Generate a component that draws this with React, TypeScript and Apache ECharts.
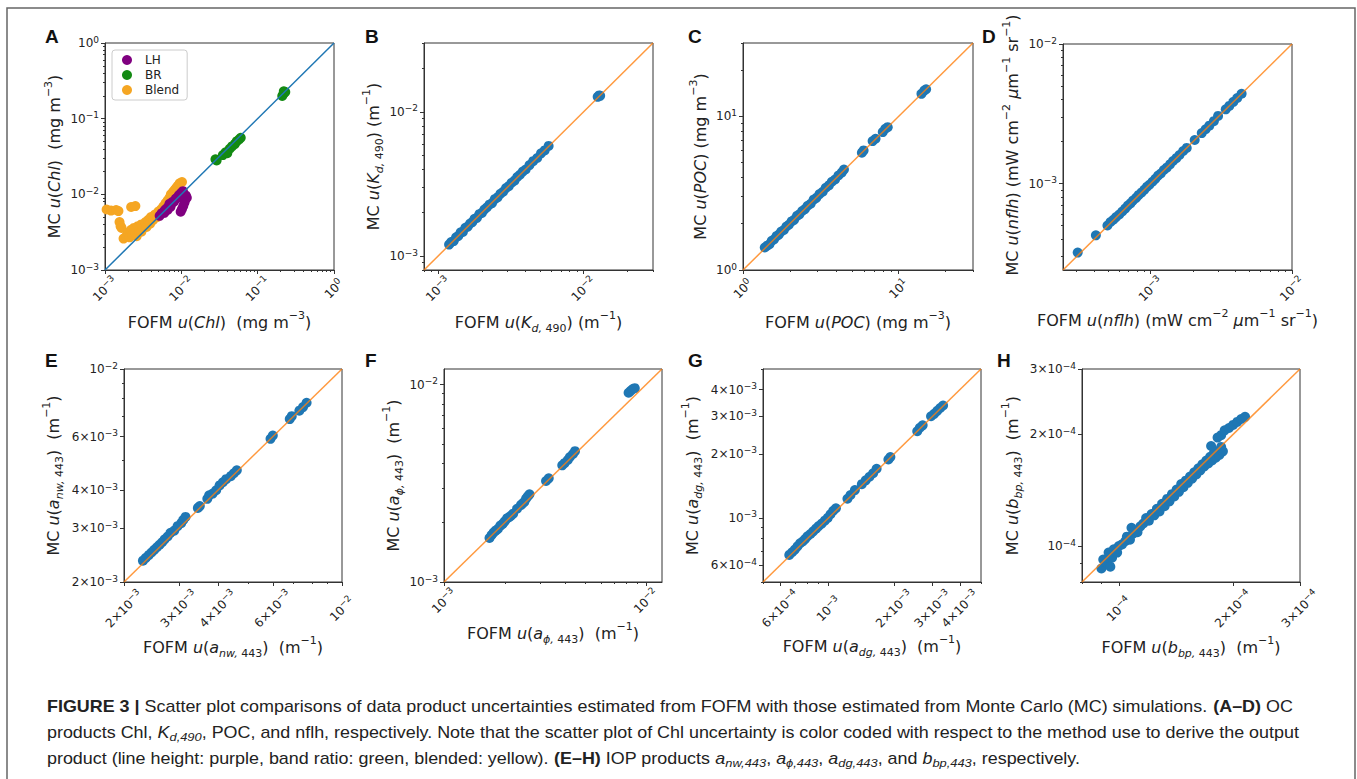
import React, { useEffect, useRef } from "react";
import * as echarts from "echarts";

type Pt = [number, number];

// ---------- data (FOFM uncertainty, MC uncertainty) ----------
const chlLH: Pt[] = [
  [5.2e-3, 5.2e-3], [5.5e-3, 5.6e-3], [5.8e-3, 5.8e-3], [6.0e-3, 5.7e-3], [6.1e-3, 6.2e-3],
  [6.4e-3, 6.5e-3], [6.6e-3, 6.2e-3], [6.8e-3, 6.9e-3], [7.0e-3, 7.5e-3], [7.2e-3, 6.8e-3],
  [7.3e-3, 7.3e-3], [7.6e-3, 7.9e-3], [8.0e-3, 8.0e-3], [8.4e-3, 8.7e-3], [8.8e-3, 9.0e-3],
  [9.2e-3, 9.6e-3], [9.6e-3, 1.0e-2], [1.0e-2, 1.05e-2], [1.05e-2, 1.1e-2], [1.08e-2, 1.0e-2],
  [1.1e-2, 9.2e-3], [1.12e-2, 8.5e-3], [1.1e-2, 7.8e-3], [1.06e-2, 7.0e-3], [1.02e-2, 6.4e-3],
  [9.8e-3, 5.9e-3], [1.15e-2, 9.6e-3], [1.18e-2, 9.0e-3],
];
const chlBR: Pt[] = [
  [2.8e-2, 2.9e-2], [2.9e-2, 2.8e-2], [3.5e-2, 3.3e-2], [3.8e-2, 3.6e-2], [4.0e-2, 3.5e-2],
  [4.3e-2, 4.0e-2], [4.6e-2, 4.3e-2], [5.0e-2, 4.6e-2], [5.3e-2, 5.0e-2], [5.7e-2, 5.3e-2],
  [6.0e-2, 5.6e-2], [2.1e-1, 2.0e-1], [2.2e-1, 2.15e-1], [2.3e-1, 2.25e-1], [2.2e-1, 2.3e-1],
];
const chlBlend: Pt[] = [
  [1.05e-3, 6.3e-3], [1.2e-3, 6.1e-3], [1.4e-3, 6.2e-3], [1.5e-3, 6.0e-3], [2.2e-3, 6.8e-3],
  [2.5e-3, 7.0e-3], [1.55e-3, 4.3e-3], [1.6e-3, 3.8e-3], [1.65e-3, 3.6e-3],
  [1.75e-3, 2.6e-3], [1.9e-3, 2.8e-3], [2.0e-3, 3.1e-3], [2.1e-3, 2.7e-3], [2.2e-3, 3.4e-3],
  [2.3e-3, 2.9e-3], [2.4e-3, 3.6e-3], [2.5e-3, 3.1e-3], [2.6e-3, 2.8e-3], [2.7e-3, 3.8e-3],
  [2.8e-3, 3.3e-3], [3.0e-3, 3.2e-3], [3.0e-3, 4.0e-3], [3.2e-3, 3.6e-3], [3.4e-3, 4.3e-3],
  [3.5e-3, 3.7e-3], [3.7e-3, 4.6e-3], [3.9e-3, 4.1e-3], [4.0e-3, 5.0e-3], [4.3e-3, 4.6e-3],
  [4.5e-3, 5.4e-3], [4.8e-3, 5.0e-3], [5.0e-3, 5.9e-3], [5.4e-3, 6.3e-3], [5.8e-3, 6.9e-3],
  [6.2e-3, 7.6e-3], [6.6e-3, 8.3e-3], [6.8e-3, 7.8e-3], [7.0e-3, 9.0e-3], [7.3e-3, 1.0e-2],
  [7.8e-3, 1.08e-2], [8.0e-3, 9.6e-3], [8.2e-3, 1.15e-2], [8.6e-3, 1.22e-2], [9.0e-3, 1.1e-2],
  [9.0e-3, 1.3e-2], [9.5e-3, 1.4e-2], [1.02e-2, 1.45e-2],
];
const kd490: Pt[] = [
  [1.19e-3, 1.2e-3], [1.23e-3, 1.25e-3], [1.28e-3, 1.27e-3], [1.33e-3, 1.35e-3], [1.38e-3, 1.38e-3],
  [1.43e-3, 1.46e-3], [1.48e-3, 1.47e-3], [1.54e-3, 1.57e-3], [1.6e-3, 1.6e-3], [1.66e-3, 1.68e-3],
  [1.72e-3, 1.72e-3], [1.78e-3, 1.81e-3], [1.85e-3, 1.84e-3], [1.92e-3, 1.95e-3], [2.0e-3, 1.99e-3],
  [2.08e-3, 2.1e-3], [2.16e-3, 2.17e-3], [2.25e-3, 2.27e-3], [2.35e-3, 2.33e-3], [2.45e-3, 2.48e-3],
  [2.56e-3, 2.55e-3], [2.68e-3, 2.7e-3], [2.8e-3, 2.79e-3], [2.93e-3, 2.96e-3], [3.06e-3, 3.05e-3],
  [3.2e-3, 3.22e-3], [3.35e-3, 3.33e-3], [3.5e-3, 3.53e-3], [3.65e-3, 3.66e-3], [3.82e-3, 3.85e-3],
  [4.0e-3, 3.98e-3], [4.25e-3, 4.27e-3], [4.5e-3, 4.55e-3], [4.8e-3, 4.78e-3], [5.1e-3, 5.15e-3],
  [5.4e-3, 5.4e-3], [5.75e-3, 5.8e-3], [1.25e-2, 1.27e-2], [1.28e-2, 1.3e-2], [1.3e-2, 1.29e-2],
];
const poc: Pt[] = [
  [1.38, 1.4], [1.43, 1.44], [1.48, 1.47], [1.53, 1.55], [1.58, 1.58], [1.64, 1.66], [1.7, 1.7],
  [1.76, 1.78], [1.83, 1.82], [1.9, 1.92], [1.97, 1.97], [2.05, 2.07], [2.13, 2.12], [2.22, 2.25],
  [2.3, 2.3], [2.4, 2.42], [2.5, 2.49], [2.6, 2.62], [2.72, 2.7], [2.84, 2.87], [2.96, 2.95],
  [3.1, 3.12], [3.25, 3.23], [3.4, 3.43], [3.56, 3.55], [3.72, 3.75], [3.9, 3.88], [4.1, 4.12],
  [4.3, 4.3], [4.45, 4.5], [5.8, 5.8], [5.95, 6.0], [6.8, 6.9], [7.1, 7.15], [7.9, 7.9],
  [8.2, 8.3], [8.5, 8.5], [14.0, 14.0], [14.6, 14.7], [15.0, 15.0],
];
const nflh: Pt[] = [
  [3.05e-4, 3.2e-4], [4.1e-4, 4.25e-4], [4.95e-4, 5.0e-4], [5.2e-4, 5.3e-4], [5.45e-4, 5.5e-4],
  [5.7e-4, 5.75e-4], [6.0e-4, 6.0e-4], [6.3e-4, 6.3e-4], [6.6e-4, 6.6e-4], [6.9e-4, 6.95e-4],
  [7.2e-4, 7.2e-4], [7.5e-4, 7.55e-4], [7.9e-4, 7.9e-4], [8.2e-4, 8.25e-4], [8.6e-4, 8.6e-4],
  [9.0e-4, 9.0e-4], [9.4e-4, 9.45e-4], [9.8e-4, 9.8e-4], [1.03e-3, 1.03e-3], [1.08e-3, 1.08e-3],
  [1.13e-3, 1.14e-3], [1.18e-3, 1.18e-3], [1.24e-3, 1.25e-3], [1.3e-3, 1.3e-3], [1.37e-3, 1.37e-3],
  [1.44e-3, 1.45e-3], [1.52e-3, 1.52e-3], [1.6e-3, 1.6e-3], [1.7e-3, 1.71e-3], [1.8e-3, 1.8e-3],
  [2.05e-3, 2.05e-3], [2.3e-3, 2.3e-3], [2.45e-3, 2.45e-3], [2.6e-3, 2.6e-3], [2.8e-3, 2.8e-3],
  [3.0e-3, 3.05e-3], [3.4e-3, 3.4e-3], [3.6e-3, 3.6e-3], [3.85e-3, 3.85e-3], [4.1e-3, 4.1e-3],
  [4.4e-3, 4.4e-3],
];
const anw443: Pt[] = [
  [2.3e-3, 2.35e-3], [2.35e-3, 2.4e-3], [2.4e-3, 2.45e-3], [2.45e-3, 2.5e-3], [2.5e-3, 2.55e-3],
  [2.55e-3, 2.6e-3], [2.6e-3, 2.65e-3], [2.65e-3, 2.7e-3], [2.7e-3, 2.76e-3], [2.76e-3, 2.82e-3],
  [2.82e-3, 2.9e-3], [2.9e-3, 2.95e-3], [2.97e-3, 3.05e-3], [3.05e-3, 3.12e-3], [3.1e-3, 3.2e-3],
  [3.15e-3, 3.27e-3], [3.45e-3, 3.5e-3], [3.5e-3, 3.55e-3], [3.7e-3, 3.75e-3], [3.75e-3, 3.85e-3],
  [3.85e-3, 3.9e-3], [3.95e-3, 4.0e-3], [4.05e-3, 4.15e-3], [4.15e-3, 4.25e-3], [4.25e-3, 4.35e-3],
  [4.4e-3, 4.45e-3], [4.5e-3, 4.55e-3], [4.6e-3, 4.65e-3], [5.9e-3, 5.9e-3], [6.0e-3, 6.05e-3],
  [6.8e-3, 6.85e-3], [6.9e-3, 7.0e-3], [7.3e-3, 7.3e-3], [7.5e-3, 7.5e-3], [7.7e-3, 7.75e-3],
];
const aphi443: Pt[] = [
  [1.68e-3, 1.67e-3], [1.72e-3, 1.73e-3], [1.76e-3, 1.78e-3], [1.8e-3, 1.82e-3], [1.85e-3, 1.86e-3],
  [1.9e-3, 1.93e-3], [1.95e-3, 1.97e-3], [2.0e-3, 2.03e-3], [2.05e-3, 2.1e-3], [2.1e-3, 2.13e-3],
  [2.15e-3, 2.17e-3], [2.2e-3, 2.22e-3], [2.3e-3, 2.35e-3], [2.4e-3, 2.45e-3], [2.45e-3, 2.5e-3],
  [2.5e-3, 2.55e-3], [2.55e-3, 2.65e-3], [2.6e-3, 2.72e-3], [2.65e-3, 2.78e-3], [3.2e-3, 3.25e-3],
  [3.3e-3, 3.35e-3], [3.85e-3, 3.9e-3], [3.95e-3, 4.0e-3], [4.1e-3, 4.15e-3], [4.2e-3, 4.3e-3],
  [4.35e-3, 4.45e-3], [4.45e-3, 4.6e-3], [8.2e-3, 9.1e-3], [8.4e-3, 9.3e-3], [8.6e-3, 9.5e-3],
  [8.8e-3, 9.6e-3],
];
const adg443: Pt[] = [
  [6.6e-4, 6.7e-4], [6.8e-4, 6.9e-4], [7.0e-4, 7.1e-4], [7.2e-4, 7.35e-4], [7.4e-4, 7.6e-4],
  [7.6e-4, 7.75e-4], [7.8e-4, 7.95e-4], [8.0e-4, 8.2e-4], [8.25e-4, 8.4e-4], [8.5e-4, 8.65e-4],
  [8.75e-4, 8.9e-4], [9.0e-4, 9.15e-4], [9.3e-4, 9.4e-4], [9.6e-4, 9.7e-4], [9.9e-4, 1.0e-3],
  [1.02e-3, 1.04e-3], [1.05e-3, 1.08e-3], [1.08e-3, 1.11e-3], [1.22e-3, 1.23e-3], [1.26e-3, 1.28e-3],
  [1.32e-3, 1.35e-3], [1.42e-3, 1.44e-3], [1.48e-3, 1.5e-3], [1.54e-3, 1.56e-3], [1.6e-3, 1.62e-3],
  [1.66e-3, 1.7e-3], [1.88e-3, 1.88e-3], [1.92e-3, 1.93e-3], [2.55e-3, 2.55e-3], [2.62e-3, 2.65e-3],
  [2.7e-3, 2.72e-3], [2.95e-3, 3.0e-3], [3.05e-3, 3.08e-3], [3.15e-3, 3.18e-3], [3.25e-3, 3.28e-3],
  [3.35e-3, 3.37e-3],
];
const bbp443: Pt[] = [
  [9.0e-5, 8.7e-5], [9.1e-5, 9.2e-5], [9.3e-5, 9.0e-5], [9.4e-5, 9.6e-5], [9.5e-5, 8.8e-5],
  [9.6e-5, 9.3e-5], [9.7e-5, 9.8e-5], [9.9e-5, 9.6e-5], [1.0e-4, 1.0e-4], [1.02e-4, 1.01e-4],
  [1.04e-4, 1.03e-4], [1.05e-4, 1.06e-4], [1.07e-4, 1.04e-4], [1.08e-4, 1.12e-4], [1.09e-4, 1.08e-4],
  [1.1e-4, 1.1e-4], [1.12e-4, 1.09e-4], [1.14e-4, 1.13e-4], [1.16e-4, 1.15e-4], [1.18e-4, 1.19e-4],
  [1.2e-4, 1.17e-4], [1.22e-4, 1.22e-4], [1.24e-4, 1.21e-4], [1.26e-4, 1.26e-4], [1.28e-4, 1.24e-4],
  [1.3e-4, 1.3e-4], [1.32e-4, 1.28e-4], [1.34e-4, 1.34e-4], [1.36e-4, 1.32e-4], [1.38e-4, 1.38e-4],
  [1.4e-4, 1.36e-4], [1.42e-4, 1.42e-4], [1.44e-4, 1.4e-4], [1.46e-4, 1.47e-4], [1.48e-4, 1.44e-4],
  [1.5e-4, 1.5e-4], [1.52e-4, 1.48e-4], [1.54e-4, 1.54e-4], [1.56e-4, 1.52e-4], [1.58e-4, 1.58e-4],
  [1.6e-4, 1.56e-4], [1.62e-4, 1.62e-4], [1.64e-4, 1.6e-4], [1.66e-4, 1.66e-4], [1.68e-4, 1.64e-4],
  [1.7e-4, 1.7e-4], [1.72e-4, 1.67e-4], [1.74e-4, 1.74e-4], [1.76e-4, 1.7e-4], [1.78e-4, 1.78e-4],
  [1.8e-4, 1.73e-4], [1.82e-4, 1.8e-4], [1.84e-4, 1.76e-4], [1.86e-4, 1.85e-4], [1.88e-4, 1.8e-4],
  [1.75e-4, 1.86e-4], [1.82e-4, 1.96e-4], [1.86e-4, 1.99e-4], [1.9e-4, 2.05e-4], [1.95e-4, 2.08e-4],
  [2.0e-4, 2.12e-4], [2.05e-4, 2.16e-4], [2.1e-4, 2.2e-4], [2.15e-4, 2.23e-4],
];

// ---------- axis ranges ----------
const rangeA = [1e-3, 1];
const rangeB = [8e-4, 3e-2];
const rangeC = [1, 30];
const rangeD = [2.4e-4, 1e-2];
const rangeE = [2e-3, 1e-2];
const rangeF = [1e-3, 1.2e-2];
const rangeG = [5e-4, 5e-3];
const rangeH = [8e-5, 3e-4];

// ---------- tick values and labels ----------
const ticksA = [1e-3, 1e-2, 1e-1, 1];
const labelsA = ["10⁻³", "10⁻²", "10⁻¹", "10⁰"];
const ticksB = [1e-3, 1e-2];
const labelsB = ["10⁻³", "10⁻²"];
const ticksC = [1, 10];
const labelsC = ["10⁰", "10¹"];
const ticksD = [1e-3, 1e-2];
const labelsD = ["10⁻³", "10⁻²"];
const ticksE = [2e-3, 3e-3, 4e-3, 6e-3, 1e-2];
const labelsE = ["2×10⁻³", "3×10⁻³", "4×10⁻³", "6×10⁻³", "10⁻²"];
const ticksF = [1e-3, 1e-2];
const labelsF = ["10⁻³", "10⁻²"];
const ticksG = [6e-4, 1e-3, 2e-3, 3e-3, 4e-3];
const labelsG = ["6×10⁻⁴", "10⁻³", "2×10⁻³", "3×10⁻³", "4×10⁻³"];
const ticksH = [1e-4, 2e-4, 3e-4];
const labelsH = ["10⁻⁴", "2×10⁻⁴", "3×10⁻⁴"];

const L = Math.log10;
const FONT = "DejaVu Sans";
const TXT = "#222";
const BLUE = "#1f77b4";
const ORANGE_LINE = "rgba(255,127,14,0.8)";

const SUP: Record<string, string> = { "⁻": "−", "⁰": "0", "¹": "1", "²": "2", "³": "3", "⁴": "4" };
function toRich(s: string): string {
  return s.replace(/[⁻⁰¹²³⁴]+/g, (m) => "{s|" + Array.from(m).map((c) => SUP[c]).join("") + "}");
}

function minorTicks(range: number[], major: number[]): number[] {
  const out: number[] = [];
  const e0 = Math.floor(L(range[0])) - 1;
  const e1 = Math.ceil(L(range[1])) + 1;
  for (let e = e0; e <= e1; e++) {
    for (let k = 1; k <= 9; k++) {
      const v = k * Math.pow(10, e);
      const lv = L(v);
      if (lv < L(range[0]) - 1e-9 || lv > L(range[1]) + 1e-9) continue;
      if (major.some((m) => Math.abs(L(m) - lv) < 1e-6)) continue;
      out.push(v);
    }
  }
  return out;
}

type Panel = {
  letter: string;
  letterAt: [number, number];
  grid: { left: number; top: number; width: number; height: number };
  range: number[];
  ticks: number[];
  labels: string[];
  xName: string;
  yName: string;
  xGap: number;
  yGap: number;
  xMargin: number;
  lineColor: string;
  series: { name: string; data: Pt[]; color: string }[];
  yNamePad?: number[];
};

const panels: Panel[] = [
  {
    letter: "A", letterAt: [45, 36], grid: { left: 105, top: 43, width: 229, height: 227 },
    range: rangeA, ticks: ticksA, labels: labelsA,
    xName: "FOFM {i|u}({i|Chl})  (mg m{sup|−3})", yName: "MC {i|u}({i|Chl})  (mg m{sup|−3})",
    xGap: 40, yGap: 38, xMargin: 19, lineColor: BLUE,
    series: [
      { name: "Blend", data: chlBlend, color: "#f5a623" },
      { name: "LH", data: chlLH, color: "#800080" },
      { name: "BR", data: chlBR, color: "#138a13" },
    ],
  },
  {
    letter: "B", letterAt: [365, 36], grid: { left: 424, top: 43, width: 229, height: 227 },
    range: rangeB, ticks: ticksB, labels: labelsB,
    xName: "FOFM {i|u}({i|K}{isub|d,}{sub| 490}) (m{sup|−1})", yName: "MC {i|u}({i|K}{isub|d,}{sub| 490}) (m{sup|−1})",
    xGap: 40, yGap: 39, xMargin: 19, lineColor: ORANGE_LINE,
    series: [{ name: "Kd490", data: kd490, color: BLUE }],
  },
  {
    letter: "C", letterAt: [688, 36], grid: { left: 743, top: 43, width: 230, height: 227 },
    range: rangeC, ticks: ticksC, labels: labelsC,
    xName: "FOFM {i|u}({i|POC}) (mg m{sup|−3})", yName: "MC {i|u}({i|POC}) (mg m{sup|−3})",
    xGap: 40, yGap: 31, xMargin: 19, lineColor: ORANGE_LINE,
    series: [{ name: "POC", data: poc, color: BLUE }],
  },
  {
    letter: "D", letterAt: [982, 36], grid: { left: 1063, top: 44, width: 229, height: 226 },
    range: rangeD, ticks: ticksD, labels: labelsD,
    xName: "FOFM {i|u}({i|nflh}) (mW cm{sup|−2} {i|μ}m{sup|−1} sr{sup|−1})",
    yName: "MC {i|u}({i|nflh}) (mW cm{sup|−2} {i|μ}m{sup|−1} sr{sup|−1})",
    xGap: 38, yGap: 36, xMargin: 19, lineColor: ORANGE_LINE,
    series: [{ name: "nflh", data: nflh, color: BLUE }],
    yNamePad: [0, 0, 0, 24],
  },
  {
    letter: "E", letterAt: [45, 360], grid: { left: 124, top: 369, width: 218, height: 213 },
    range: rangeE, ticks: ticksE, labels: labelsE,
    xName: "FOFM {i|u}({i|a}{isub|nw,}{sub| 443})  (m{sup|−1})", yName: "MC {i|u}({i|a}{isub|nw,}{sub| 443})  (m{sup|−1})",
    xGap: 53, yGap: 59, xMargin: 27, lineColor: ORANGE_LINE,
    series: [{ name: "anw443", data: anw443, color: BLUE }],
  },
  {
    letter: "F", letterAt: [365, 360], grid: { left: 444, top: 369, width: 218, height: 213 },
    range: rangeF, ticks: ticksF, labels: labelsF,
    xName: "FOFM {i|u}({i|a}{isub|ϕ,}{sub| 443})  (m{sup|−1})", yName: "MC {i|u}({i|a}{isub|ϕ,}{sub| 443})  (m{sup|−1})",
    xGap: 39, yGap: 39, xMargin: 19, lineColor: ORANGE_LINE,
    series: [{ name: "aphi443", data: aphi443, color: BLUE }],
  },
  {
    letter: "G", letterAt: [688, 360], grid: { left: 763, top: 369, width: 218, height: 213 },
    range: rangeG, ticks: ticksG, labels: labelsG,
    xName: "FOFM {i|u}({i|a}{isub|dg,}{sub| 443})  (m{sup|−1})", yName: "MC {i|u}({i|a}{isub|dg,}{sub| 443})  (m{sup|−1})",
    xGap: 51, yGap: 59, xMargin: 27, lineColor: ORANGE_LINE,
    series: [{ name: "adg443", data: adg443, color: BLUE }],
  },
  {
    letter: "H", letterAt: [997, 360], grid: { left: 1082, top: 369, width: 218, height: 213 },
    range: rangeH, ticks: ticksH, labels: labelsH,
    xName: "FOFM {i|u}({i|b}{isub|bp,}{sub| 443})  (m{sup|−1})", yName: "MC {i|u}({i|b}{isub|bp,}{sub| 443})  (m{sup|−1})",
    xGap: 53, yGap: 58, xMargin: 27, lineColor: ORANGE_LINE,
    series: [{ name: "bbp443", data: bbp443, color: BLUE }],
  },
];

const nameRich = {
  i: { fontStyle: "italic", fontSize: 16, fontFamily: FONT, lineHeight: 24, color: TXT },
  sup: { fontSize: 11, fontFamily: FONT, lineHeight: 12, verticalAlign: "top", color: TXT },
  sub: { fontSize: 11, fontFamily: FONT, lineHeight: 12, verticalAlign: "bottom", color: TXT },
  isub: { fontSize: 11, fontStyle: "italic", fontFamily: FONT, lineHeight: 12, verticalAlign: "bottom", color: TXT },
};

const tickRich = {
  s: { fontSize: 9, fontFamily: FONT, lineHeight: 9, verticalAlign: "top", color: TXT },
};

function buildOption() {
  const grids: any[] = [];
  const xAxes: any[] = [];
  const yAxes: any[] = [];
  const series: any[] = [];
  const graphics: any[] = [];

  panels.forEach((p, i) => {
    grids.push({
      ...p.grid,
      show: true,
      borderColor: "#333",
      borderWidth: 1,
      backgroundColor: "#fff",
      containLabel: false,
    });
    const lo = L(p.range[0]);
    const hi = L(p.range[1]);
    const major = p.ticks.map(L);
    const minor = minorTicks(p.range, p.ticks).map(L);
    const fmt = (v: number) => {
      const k = major.findIndex((m) => Math.abs(m - v) < 1e-6);
      return k >= 0 ? toRich(p.labels[k]) : "";
    };
    const common = {
      type: "value",
      gridIndex: i,
      min: lo,
      max: hi,
      splitLine: { show: false },
    };
    const nameStyle: any = {
      fontSize: 16,
      fontFamily: FONT,
      color: TXT,
      lineHeight: 24,
      rich: nameRich,
    };
    const labelBase = {
      customValues: major,
      formatter: fmt,
      fontSize: 12,
      lineHeight: 16,
      fontFamily: FONT,
      color: TXT,
      showMinLabel: true,
      showMaxLabel: true,
      rich: tickRich,
    };
    xAxes.push({
      ...common,
      position: "bottom",
      axisLine: { show: true, onZero: false, lineStyle: { color: "#333", width: 1 } },
      axisTick: { show: true, inside: false, length: 4, customValues: major, lineStyle: { color: "#333" } },
      axisLabel: {
        ...labelBase,
        rotate: 45,
        align: "center",
        verticalAlign: "middle",
        margin: p.xMargin,
      },
      name: p.xName,
      nameLocation: "middle",
      nameGap: p.xGap,
      nameTextStyle: nameStyle,
    });
    xAxes.push({
      ...common,
      position: "bottom",
      axisLine: { show: false, onZero: false },
      axisTick: { show: true, inside: false, length: 2, customValues: minor, lineStyle: { color: "#333" } },
      axisLabel: { show: false },
    });
    yAxes.push({
      ...common,
      position: "left",
      axisLine: { show: true, onZero: false, lineStyle: { color: "#333", width: 1 } },
      axisTick: { show: true, inside: false, length: 4, customValues: major, lineStyle: { color: "#333" } },
      axisLabel: { ...labelBase, margin: 6 },
      name: p.yName,
      nameLocation: "middle",
      nameRotate: 90,
      nameGap: p.yGap,
      nameTextStyle: p.yNamePad ? { ...nameStyle, padding: p.yNamePad } : nameStyle,
    });
    yAxes.push({
      ...common,
      position: "left",
      axisLine: { show: false, onZero: false },
      axisTick: { show: true, inside: false, length: 2, customValues: minor, lineStyle: { color: "#333" } },
      axisLabel: { show: false },
    });

    p.series.forEach((s) => {
      series.push({
        type: "scatter",
        name: s.name,
        xAxisIndex: 2 * i,
        yAxisIndex: 2 * i,
        symbol: "circle",
        symbolSize: 10,
        itemStyle: { color: s.color, opacity: 1 },
        data: s.data.map(([x, y]) => [L(x), L(y)]),
        z: 2,
        silent: true,
      });
    });
    series.push({
      type: "line",
      name: "1:1",
      xAxisIndex: 2 * i,
      yAxisIndex: 2 * i,
      data: [
        [lo, lo],
        [hi, hi],
      ],
      symbol: "none",
      lineStyle: { color: p.lineColor, width: 1.5 },
      z: 5,
      silent: true,
    });

    graphics.push({
      type: "text",
      x: p.letterAt[0],
      y: p.letterAt[1],
      style: {
        text: p.letter,
        fontFamily: "Liberation Sans",
        fontWeight: "bold",
        fontSize: 19,
        fill: "#111",
        verticalAlign: "middle",
        align: "left",
      },
    });
  });

  // frame
  graphics.unshift({
    type: "rect",
    shape: { x: 7, y: 8, width: 1348, height: 800 },
    style: { fill: "none", stroke: "#666", lineWidth: 1.5 },
    z: -10,
  });

  const capFont = "Liberation Sans";
  const capSize = 16;
  const capRich = {
    b: { fontWeight: "bold", fontFamily: capFont, fontSize: capSize, fill: TXT },
    i: { fontStyle: "italic", fontFamily: capFont, fontSize: capSize, fill: TXT },
    isub: { fontStyle: "italic", fontFamily: capFont, fontSize: 11.5, fill: TXT, verticalAlign: "bottom", lineHeight: 12 },
  };
  const captionLines = [
    "{b|FIGURE 3 |} Scatter plot comparisons of data product uncertainties estimated from FOFM with those estimated from Monte Carlo (MC) simulations. {b|(A–D)} OC",
    "products Chl, {i|K}{isub|d,490}, POC, and nflh, respectively. Note that the scatter plot of Chl uncertainty is color coded with respect to the method use to derive the output",
    "product (line height: purple, band ratio: green, blended: yellow). {b|(E–H)} IOP products {i|a}{isub|nw,443}, {i|a}{isub|ϕ,443}, {i|a}{isub|dg,443}, and {i|b}{isub|bp,443}, respectively.",
  ];
  captionLines.forEach((t, k) => {
    graphics.push({
      type: "text",
      x: 47,
      y: 707 + k * 26,
      scaleX: 1.12,
      style: {
        text: t,
        fontFamily: capFont,
        fontSize: capSize,
        fill: TXT,
        lineHeight: 20,
        verticalAlign: "middle",
        align: "left",
        rich: capRich,
      },
    });
  });

  return {
    animation: false,
    backgroundColor: "#fff",
    grid: grids,
    xAxis: xAxes,
    yAxis: yAxes,
    series,
    graphic: graphics,
    legend: {
      data: ["LH", "BR", "Blend"],
      orient: "vertical",
      left: 112,
      top: 50,
      icon: "circle",
      itemWidth: 10,
      itemHeight: 10,
      itemGap: 3,
      padding: [4, 8, 4, 10],
      borderColor: "#ccc",
      borderWidth: 1,
      borderRadius: 3,
      backgroundColor: "rgba(255,255,255,0.85)",
      textStyle: { fontSize: 12, fontFamily: FONT, color: TXT, padding: [0, 0, 0, 8] },
      selectedMode: false,
    },
  };
}

export default function App() {
  const ref = useRef<HTMLDivElement>(null);
  useEffect(() => {
    document.body.style.margin = "0";
    document.body.style.overflow = "hidden";
    const chart = echarts.init(ref.current!, null, { renderer: "svg" });
    chart.setOption(buildOption() as any);
    return () => chart.dispose();
  }, []);
  return <div ref={ref} style={{ width: 1357, height: 779 }} />;
}
